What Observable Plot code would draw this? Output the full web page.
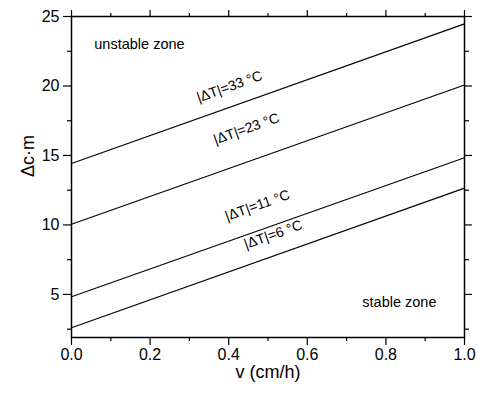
<!DOCTYPE html>
<html>
<head>
<meta charset="utf-8">
<script src="https://cdn.jsdelivr.net/npm/d3@7"></script>
<script src="https://cdn.jsdelivr.net/npm/@observablehq/plot@0.6"></script>
<style>
  html, body { margin: 0; padding: 0; background: #fff; }
  svg { font-family: "Liberation Sans", Arial, sans-serif; }
</style>
</head>
<body>
<div id="chart"></div>
<script>
// Series: line endpoints at v = 0 and v = 1
const vValues = [0, 1];
const seriesNames = ["|ΔT|=33 °C", "|ΔT|=23 °C", "|ΔT|=11 °C", "|ΔT|=6 °C"];
const startValues = [14.42, 10.05, 4.83, 2.6];
const endValues = [24.47, 20.07, 14.83, 12.65];

// Label anchor positions (data coordinates)
const labelX = [0.402, 0.445, 0.473, 0.513];
const labelY = [19.95, 16.92, 11.4, 9.3];

// Zone annotations
const zoneText = ["unstable zone", "stable zone"];
const zoneX = [0.058, 0.74];
const zoneY = [23.0, 4.45];

const xMajor = [0, 0.2, 0.4, 0.6, 0.8, 1.0];
const xMinor = [0.1, 0.3, 0.5, 0.7, 0.9];
const yMajor = [5, 10, 15, 20, 25];
const yMinor = [2.5, 7.5, 12.5, 17.5, 22.5];

const lineData = [];
seriesNames.forEach((s, i) => {
  lineData.push({series: s, v: vValues[0], c: startValues[i]});
  lineData.push({series: s, v: vValues[1], c: endValues[i]});
});
const labels = seriesNames.map((s, i) => ({text: s, v: labelX[i], c: labelY[i]}));
const zones = zoneText.map((t, i) => ({text: t, v: zoneX[i], c: zoneY[i]}));

const W = 477, H = 394;
const mL = 71, mR = 13, mT = 16, mB = 57;
const pxPerX = (W - mL - mR) / 1;
const pxPerY = (H - mT - mB) / (25 - 1.9);
const ang = -Math.atan((endValues[0] - startValues[0]) * pxPerY / pxPerX) * 180 / Math.PI;

const chart = Plot.plot({
  width: W,
  height: H,
  marginLeft: mL,
  marginRight: mR,
  marginTop: mT,
  marginBottom: mB,
  style: {fontFamily: "'Liberation Sans', Arial, sans-serif", background: "#fff", color: "#000"},
  x: {domain: [0, 1]},
  y: {domain: [1.9, 25]},
  marks: [
    Plot.axisX({anchor: "bottom", ticks: xMajor, tickSize: 8, tickPadding: 3, tickFormat: d3.format(".1f"), fontSize: 16, label: null, strokeWidth: 1.2}),
    Plot.axisX({anchor: "bottom", ticks: xMinor, tickSize: 4, text: null, label: null, strokeWidth: 1.2}),
    Plot.axisX({anchor: "top", ticks: xMajor, tickSize: 7, text: null, label: null, strokeWidth: 1.2}),
    Plot.axisX({anchor: "top", ticks: xMinor, tickSize: 4, text: null, label: null, strokeWidth: 1.2}),
    Plot.axisY({anchor: "left", ticks: yMajor, tickSize: 8, tickPadding: 4, fontSize: 16, label: null, strokeWidth: 1.2}),
    Plot.axisY({anchor: "left", ticks: yMinor, tickSize: 4, text: null, label: null, strokeWidth: 1.2}),
    Plot.axisY({anchor: "right", ticks: yMajor, tickSize: 7, text: null, label: null, strokeWidth: 1.2}),
    Plot.axisY({anchor: "right", ticks: yMinor, tickSize: 4, text: null, label: null, strokeWidth: 1.2}),
    Plot.frame({stroke: "#000", strokeWidth: 1.5}),
    Plot.line(lineData, {x: "v", y: "c", z: "series", stroke: "#000", strokeWidth: 1.1}),
    Plot.text(labels, {x: "v", y: "c", text: "text", rotate: ang, fontSize: 14, fill: "#000"}),
    Plot.text(zones, {x: "v", y: "c", text: "text", textAnchor: "start", fontSize: 14.5, fill: "#000"}),
    Plot.text(["v (cm/h)"], {frameAnchor: "bottom", dy: 40, fontSize: 18, fill: "#000"}),
    Plot.text(["Δc·m"], {frameAnchor: "left", dx: -43, rotate: -90, fontSize: 18, fill: "#000"})
  ]
});
document.getElementById("chart").appendChild(chart);
</script>
</body>
</html>
